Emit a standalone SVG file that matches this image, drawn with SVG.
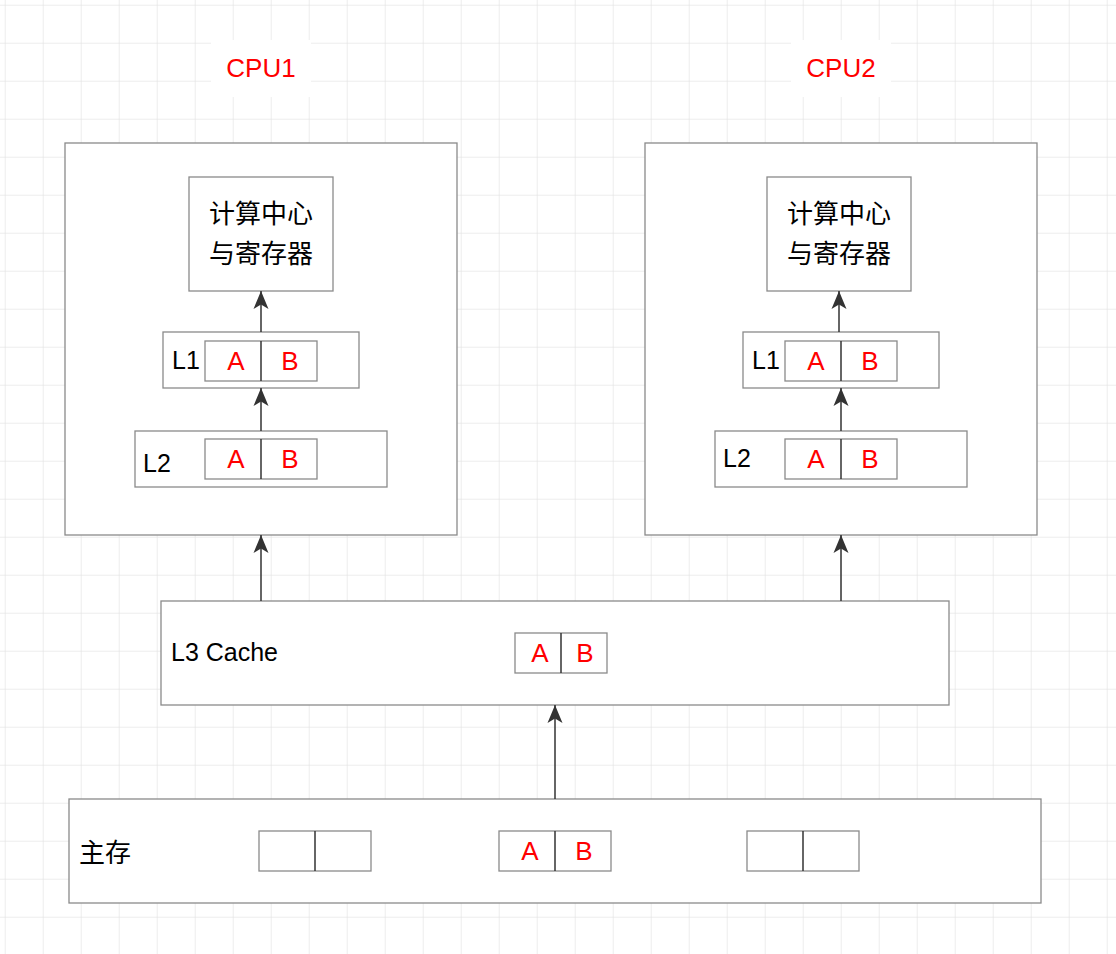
<svg xmlns="http://www.w3.org/2000/svg" width="1116" height="954" viewBox="0 0 1116 954">
<defs>
<pattern id="g" width="38" height="38" patternUnits="userSpaceOnUse" x="4.7" y="4.7">
<path d="M38 0H0V38" fill="none" stroke="#dcdcdc" stroke-width="1"/>
</pattern>
<marker id="ar" markerWidth="18" markerHeight="18" refX="18" refY="9" orient="auto" markerUnits="userSpaceOnUse" overflow="visible">
<path d="M0,1.5 L18,9 L0,16.5 L4.5,9 Z" fill="#333"/>
</marker>
<style>
.b{fill:#fff;stroke:#8a8a8a;stroke-width:1.3}
.c{stroke:#333;stroke-width:1.5;fill:none}
.t{font-family:"Liberation Sans",Arial,sans-serif;font-size:25px;fill:#000}
.r{font-family:"Liberation Sans",Arial,sans-serif;font-size:26px;fill:#f00;text-anchor:middle}
.z{font-family:"Noto Sans CJK SC",sans-serif;font-size:26px;fill:#000;text-anchor:middle}
</style>
</defs>
<rect width="1116" height="954" fill="#fff"/>
<rect width="1116" height="954" fill="url(#g)"/>
<g id="cpu1label"><rect x="211" y="40" width="100" height="57" fill="#fff"/><text class="r" x="261" y="77">CPU1</text></g>
<g id="cpu2label"><rect x="791" y="40" width="100" height="57" fill="#fff"/><text class="r" x="841" y="77">CPU2</text></g>
<g id="cpu1"><rect class="b" x="65" y="143" width="392" height="392"/></g>
<g id="cpu2"><rect class="b" x="645" y="143" width="392" height="392"/></g>
<g id="core1"><rect class="b" x="189" y="177" width="144" height="114"/><text class="z" x="261" y="223">计算中心</text><text class="z" x="261" y="263">与寄存器</text></g>
<g id="core2"><rect class="b" x="767" y="177" width="144" height="114"/><text class="z" x="839" y="223">计算中心</text><text class="z" x="839" y="263">与寄存器</text></g>
<g id="l1a"><rect class="b" x="163" y="332" width="196" height="56"/><text class="t" x="172" y="369">L1</text><rect class="b" x="205" y="341" width="112" height="40"/><line class="c" x1="261" y1="341" x2="261" y2="381"/><text class="r" x="236" y="370">A</text><text class="r" x="290" y="370">B</text></g>
<g id="l1b"><rect class="b" x="743" y="332" width="196" height="56"/><text class="t" x="752" y="369">L1</text><rect class="b" x="785" y="341" width="112" height="40"/><line class="c" x1="841" y1="341" x2="841" y2="381"/><text class="r" x="816" y="370">A</text><text class="r" x="870" y="370">B</text></g>
<g id="l2a"><rect class="b" x="135" y="431" width="252" height="56"/><text class="t" x="143" y="472">L2</text><rect class="b" x="205" y="439" width="112" height="40"/><line class="c" x1="261" y1="439" x2="261" y2="479"/><text class="r" x="236" y="468">A</text><text class="r" x="290" y="468">B</text></g>
<g id="l2b"><rect class="b" x="715" y="431" width="252" height="56"/><text class="t" x="723" y="467">L2</text><rect class="b" x="785" y="439" width="112" height="40"/><line class="c" x1="841" y1="439" x2="841" y2="479"/><text class="r" x="816" y="468">A</text><text class="r" x="870" y="468">B</text></g>
<g id="l3"><rect class="b" x="161" y="601" width="788" height="104"/><text class="t" x="171" y="661">L3 Cache</text><rect class="b" x="515" y="633" width="92" height="40"/><line class="c" x1="561" y1="633" x2="561" y2="673"/><text class="r" x="540" y="662">A</text><text class="r" x="585" y="662">B</text></g>
<g id="mem"><rect class="b" x="69" y="799" width="972" height="104"/><text class="z" x="105" y="862">主存</text>
<rect class="b" x="259" y="831" width="112" height="40"/><line class="c" x1="315" y1="831" x2="315" y2="871"/>
<rect class="b" x="499" y="831" width="112" height="40"/><line class="c" x1="555" y1="831" x2="555" y2="871"/><text class="r" x="530" y="860">A</text><text class="r" x="584" y="860">B</text>
<rect class="b" x="747" y="831" width="112" height="40"/><line class="c" x1="803" y1="831" x2="803" y2="871"/></g>
<g id="connectors">
<line class="c" x1="261" y1="332" x2="261" y2="291" marker-end="url(#ar)"/>
<line class="c" x1="261" y1="431" x2="261" y2="388" marker-end="url(#ar)"/>
<line class="c" x1="839" y1="332" x2="839" y2="291" marker-end="url(#ar)"/>
<line class="c" x1="841" y1="431" x2="841" y2="388" marker-end="url(#ar)"/>
<line class="c" x1="261" y1="601" x2="261" y2="535" marker-end="url(#ar)"/>
<line class="c" x1="841" y1="601" x2="841" y2="535" marker-end="url(#ar)"/>
<line class="c" x1="555" y1="799" x2="555" y2="705" marker-end="url(#ar)"/>
</g>
</svg>
